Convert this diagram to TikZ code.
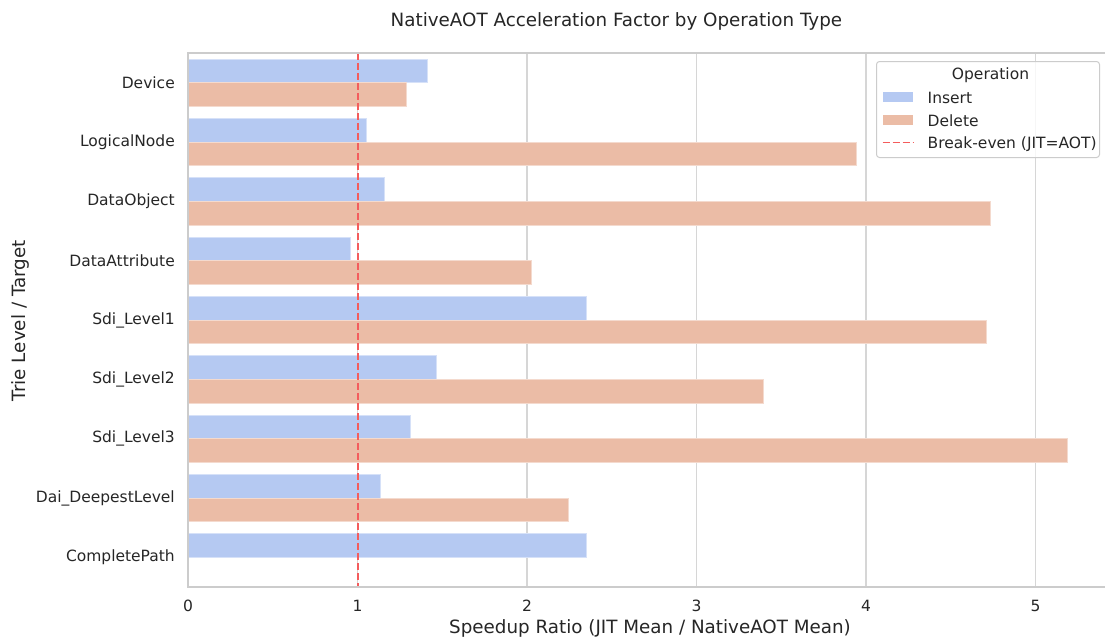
\documentclass[tikz,border=0pt]{standalone}
\usepackage{fontspec}
\setmainfont{DejaVu Sans}
\definecolor{insertc}{RGB}{181,201,242}
\definecolor{deletec}{RGB}{235,188,166}
\definecolor{gridc}{RGB}{214,214,214}
\definecolor{spinec}{RGB}{204,204,204}
\definecolor{txt}{RGB}{38,38,38}
\definecolor{breakc}{RGB}{244,92,92}
\tikzset{
  gridline/.style={draw=gridc, line width=1.5pt},
  spine/.style={draw=spinec, line width=1.5pt},
  insertbar/.style={fill=insertc, draw=insertc!55!white, line width=0.8pt},
  deletebar/.style={fill=deletec, draw=deletec!55!white, line width=0.8pt},
  breakline/.style={draw=breakc, line width=2pt, dash pattern=on 7pt off 3pt},
  ticklabel/.style={text=txt, font=\fontsize{15.5}{18}\selectfont, inner sep=0pt},
  axislabel/.style={text=txt, font=\fontsize{18.3}{21}\selectfont, inner sep=0pt},
  legendbox/.style={draw=spinec, line width=1pt, rounded corners=3pt, fill=white,
    fill opacity=0.8, minimum width=223pt, minimum height=96pt, inner sep=0pt},
}
\begin{document}
\begin{tikzpicture}[x=1pt,y=-1pt]
\useasboundingbox (0,0) rectangle (1105,643);
\fill[white] (0,0) rectangle (1105,643);

% vertical grid lines and x tick labels
\foreach \v in {0,...,5}{
  \draw[gridline] ({188+\v*169.53},53) -- ({188+\v*169.53},587);
  \node[ticklabel, anchor=base] (xt\v) at ({188+\v*169.53},611) {\v};
}

% Insert bars (upper half of each category band)
\foreach \i/\lab/\val in {0/Device/1.412, 1/LogicalNode/1.05, 2/DataObject/1.156,
    3/DataAttribute/0.96, 4/Sdi\_Level1/2.348, 5/Sdi\_Level2/1.467,
    6/Sdi\_Level3/1.312, 7/Dai\_DeepestLevel/1.137, 8/CompletePath/2.352}{
  \pgfmathsetmacro{\c}{53+59.333*(\i+0.5)}
  \draw[insertbar] (188,{\c-23.73}) rectangle ({188+\val*169.53},\c);
  \node[ticklabel, anchor=east] (yt\i) at (175,\c) {\lab};
}

% Delete bars (lower half of each category band)
\foreach \i/\val in {0/1.286, 1/3.945, 2/4.735, 3/2.027, 4/4.71, 5/3.392,
    6/5.19, 7/2.246}{
  \pgfmathsetmacro{\c}{53+59.333*(\i+0.5)}
  \draw[deletebar] (188,\c) rectangle ({188+\val*169.53},{\c+23.73});
}

% break-even reference at ratio 1
\coordinate (be-top) at (357.53,53);
\coordinate (be-bot) at (357.53,587);
\draw[breakline] (be-top) -- (be-bot);

% axes frame
\draw[spine] (1106,53) -- (188,53) -- (188,587) -- (1106,587);

% legend
\node[legendbox, anchor=north west] (legend) at (876,61) {};
\node[ticklabel, anchor=base] (legtitle) at (990.5,79.3) {Operation};
\fill[insertc] (882.7,92) rectangle (913,101.7);
\node[ticklabel, anchor=base west] (leg-ins) at (927.5,103.3) {Insert};
\fill[deletec] (882.7,115) rectangle (913,124.5);
\node[ticklabel, anchor=base west] (leg-del) at (927.5,126) {Delete};
\coordinate (legdash-a) at (882.7,142.5);
\coordinate (legdash-b) at (913,142.5);
\draw[breakline, line width=1.8pt] (legdash-a) -- (legdash-b);
\node[ticklabel, anchor=base west] (leg-be) at (927.5,148.8) {Break-even (JIT=AOT)};

% titles
\node[axislabel, anchor=base] (title) at (616.4,26.7) {NativeAOT Acceleration Factor by Operation Type};
\node[axislabel, anchor=base] (xlabel) at (650,633) {Speedup Ratio (JIT Mean / NativeAOT Mean)};
\node[axislabel, anchor=base, rotate=90] (ylabel) at (25,320.8) {Trie Level / Target};
\end{tikzpicture}
\end{document}
